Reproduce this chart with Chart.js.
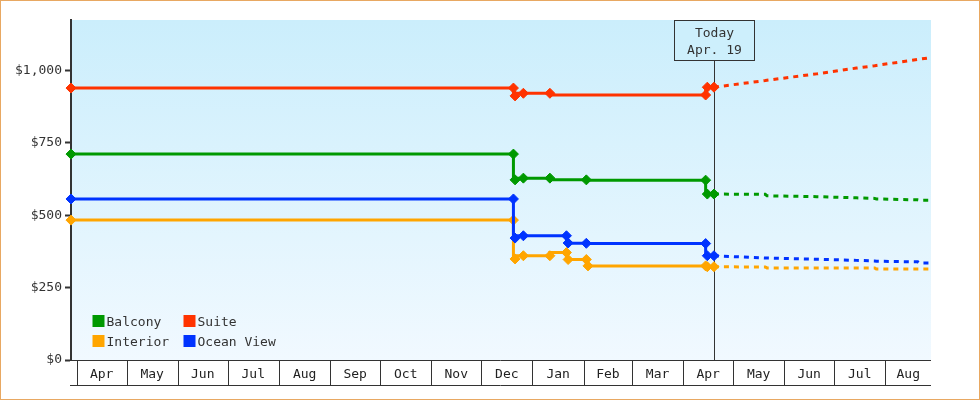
<!DOCTYPE html>
<html><head><meta charset="utf-8">
<script src="https://cdn.jsdelivr.net/npm/chart.js@4"></script>
<style>html,body{margin:0;padding:0;background:#fff}canvas{display:block}</style>
</head><body>
<canvas id="c" width="980" height="400"></canvas>
<script>
// ---- data ----
const seriesNames  = ['Balcony', 'Interior', 'Suite', 'Ocean View'];
const seriesColors = ['#009900', '#ffa500', '#ff3300', '#0033ff'];

const historyDates = ['2023-03-28','2023-12-20','2023-12-21','2023-12-26','2024-01-11','2024-01-21','2024-01-22','2024-02-02','2024-02-03','2024-04-14','2024-04-15','2024-04-19'];
const balconyHistory  = [711, 711, 622, 628, 628, null, null, 622, null, 621, 573, 573];
const interiorHistory = [483, 483, 349, 360, 360, 371, 347, 347, 325, 325, 322, 322];
const suiteHistory    = [939, 939, 912, 921, 921, null, null, null, null, 915, 942, 942];
const oceanHistory    = [556, 556, 421, 429, null, 429, 404, 403, null, 402, 360, 360];

const forecastDates = ['2024-04-19','2024-05-20','2024-05-21','2024-06-20','2024-07-14','2024-07-25','2024-07-26','2024-08-20','2024-08-21','2024-08-28'];
const balconyForecast  = [573, 572, 567, 564, 560, 558, 556, 553, 552, 552];
const interiorForecast = [322, 321, 318, 318, 318, 318, 314, 314, 314, 314];
const suiteForecast    = [942, 965, 966, 988, 1008, 1016, 1017, 1038, 1039, 1044];
const oceanForecast    = [360, 352, 352, 348, 344, 342, 341, 339, 335, 335];

const monthStarts = ['2023-04-01','2023-05-01','2023-06-01','2023-07-01','2023-08-01','2023-09-01','2023-10-01','2023-11-01','2023-12-01','2024-01-01','2024-02-01','2024-03-01','2024-04-01','2024-05-01','2024-06-01','2024-07-01','2024-08-01'];
const monthLabels = ['Apr','May','Jun','Jul','Aug','Sep','Oct','Nov','Dec','Jan','Feb','Mar','Apr','May','Jun','Jul','Aug'];
const yTickValues = [0, 250, 500, 750, 1000];
const axisStart = '2023-03-28', axisEnd = '2024-08-28', yMax = 1174;
const todayDate = '2024-04-19';
const todayText = ['Today', 'Apr. 19'];

// ---- helpers ----
const EPOCH = Date.UTC(2023, 3, 1);
function dayOf(s) { const [y, m, d] = s.split('-').map(Number); return (Date.UTC(y, m - 1, d) - EPOCH) / 86400000; }
const NOON = 0.5;
const FONT = '13px "DejaVu Sans Mono", monospace';
const INK = '#333';

function pts(dates, vals) { return dates.map((d, i) => ({ x: dayOf(d) + NOON, y: vals[i] })); }

const hist = [balconyHistory, interiorHistory, suiteHistory, oceanHistory];
const fore = [balconyForecast, interiorForecast, suiteForecast, oceanForecast];
const drawOrder = [2, 3, 1, 0];

const datasets = [];
hist.forEach((vals, i) => datasets.push({
  label: seriesNames[i], data: pts(historyDates, vals), borderColor: seriesColors[i],
  backgroundColor: seriesColors[i], borderWidth: 3, stepped: 'after', spanGaps: true,
  pointStyle: 'rectRot', pointRadius: 5, pointBorderWidth: 1, pointBackgroundColor: seriesColors[i],
  pointBorderColor: seriesColors[i], clip: false, order: drawOrder[i]
}));
fore.forEach((vals, i) => datasets.push({
  label: seriesNames[i] + ' forecast', data: pts(forecastDates, vals), borderColor: seriesColors[i],
  borderWidth: 3, borderDash: [5, 5], pointRadius: 0, tension: 0, clip: false, order: 4 + drawOrder[i]
}));

const monthMid = monthStarts.map((m, i) => {
  const a = dayOf(m), b = i + 1 < monthStarts.length ? dayOf(monthStarts[i + 1]) : dayOf(axisEnd) + NOON;
  return (a + b) / 2;
});

const decor = {
  id: 'decor',
  beforeDraw(chart) {
    const { ctx, chartArea: ca } = chart;
    ctx.save();
    ctx.fillStyle = '#fff';
    ctx.fillRect(0, 0, chart.width, chart.height);
    const g = ctx.createLinearGradient(0, ca.top, 0, ca.bottom);
    g.addColorStop(0, '#cbeefc');
    g.addColorStop(1, '#f1f9ff');
    ctx.fillStyle = g;
    ctx.fillRect(ca.left, ca.top, ca.right - ca.left, ca.bottom - ca.top);
    ctx.strokeStyle = '#e8a862';
    ctx.lineWidth = 1;
    ctx.strokeRect(0.5, 0.5, chart.width - 1, chart.height - 1);
    ctx.restore();
  },
  beforeDatasetsDraw(chart) {
    const { ctx, chartArea: ca, scales: { x } } = chart;
    const tx = Math.round(x.getPixelForValue(dayOf(todayDate) + NOON)) + 0.5;
    ctx.save();
    ctx.strokeStyle = INK; ctx.lineWidth = 1;
    ctx.beginPath(); ctx.moveTo(tx, ca.top + 40); ctx.lineTo(tx, ca.bottom); ctx.stroke();
    ctx.restore();
  },
  afterDraw(chart) {
    const { ctx, chartArea: ca, scales: { x } } = chart;
    ctx.save();
    // month boxes
    ctx.strokeStyle = INK; ctx.lineWidth = 1;
    const yTop = ca.bottom + 0.5, yBot = ca.bottom + 25.5;
    ctx.beginPath();
    ctx.moveTo(ca.left - 1, yTop); ctx.lineTo(ca.right, yTop);
    ctx.moveTo(ca.left - 1, yBot); ctx.lineTo(ca.right, yBot);
    monthStarts.forEach(m => {
      const px = Math.round(x.getPixelForValue(dayOf(m))) + 0.5;
      ctx.moveTo(px, yTop); ctx.lineTo(px, yBot);
    });
    ctx.stroke();
    // today box
    const tx = Math.round(x.getPixelForValue(dayOf(todayDate) + NOON)) + 0.5;
    ctx.fillStyle = '#cdeffc';
    ctx.fillRect(tx - 40, ca.top + 0.5, 80, 40);
    ctx.strokeRect(tx - 40, ca.top + 0.5, 80, 40);
    ctx.fillStyle = INK; ctx.font = FONT; ctx.textAlign = 'center'; ctx.textBaseline = 'alphabetic';
    ctx.fillText(todayText[0], tx, ca.top + 17);
    ctx.fillText(todayText[1], tx, ca.top + 34);
    // legend (2 x 2)
    const cols = [ca.left + 21.5, ca.left + 112.5];
    const rows = [ca.bottom - 45, ca.bottom - 25];
    const order = [0, 2, 1, 3]; // Balcony, Suite / Interior, Ocean View
    ctx.textAlign = 'left';
    order.forEach((si, k) => {
      const cx = cols[k % 2], ry = rows[Math.floor(k / 2)];
      ctx.fillStyle = seriesColors[si];
      ctx.fillRect(cx, ry, 12, 12);
      ctx.fillStyle = INK;
      ctx.fillText(seriesNames[si], cx + 14, ry + 11);
    });
    ctx.restore();
  }
};

new Chart(document.getElementById('c'), {
  type: 'line',
  data: { datasets },
  plugins: [decor],
  options: {
    responsive: false, animation: false, devicePixelRatio: 1,
    layout: { padding: { top: 20, right: 49, bottom: 0, left: 0 } },
    plugins: { legend: { display: false }, tooltip: { enabled: false } },
    scales: {
      x: {
        type: 'linear', min: dayOf(axisStart) + NOON, max: dayOf(axisEnd) + NOON,
        grid: { display: false, drawTicks: false }, border: { display: false },
        afterBuildTicks: s => { s.ticks = monthMid.map(v => ({ value: v })); },
        afterFit: s => { s.height = 40; s.paddingLeft = 0; s.paddingRight = 0; },
        ticks: { autoSkip: false, maxRotation: 0, minRotation: 0, padding: 7, color: '#222',
          font: { family: '"DejaVu Sans Mono", monospace', size: 13 },
          callback: (v, i) => monthLabels[i] }
      },
      y: {
        min: 0, max: yMax,
        afterBuildTicks: s => { s.ticks = yTickValues.map(v => ({ value: v })); },
        afterFit: s => { s.width = 71; s.paddingTop = 0; s.paddingBottom = 0; },
        border: { display: true, color: INK, width: 2 },
        grid: { display: true, drawOnChartArea: false, drawTicks: true, tickLength: 6, tickWidth: 2, tickColor: INK, color: INK },
        ticks: { padding: 3, color: INK, font: { family: '"DejaVu Sans Mono", monospace', size: 13 },
          callback: v => '$' + v.toLocaleString('en-US') }
      }
    }
  }
});
</script>
</body></html>
